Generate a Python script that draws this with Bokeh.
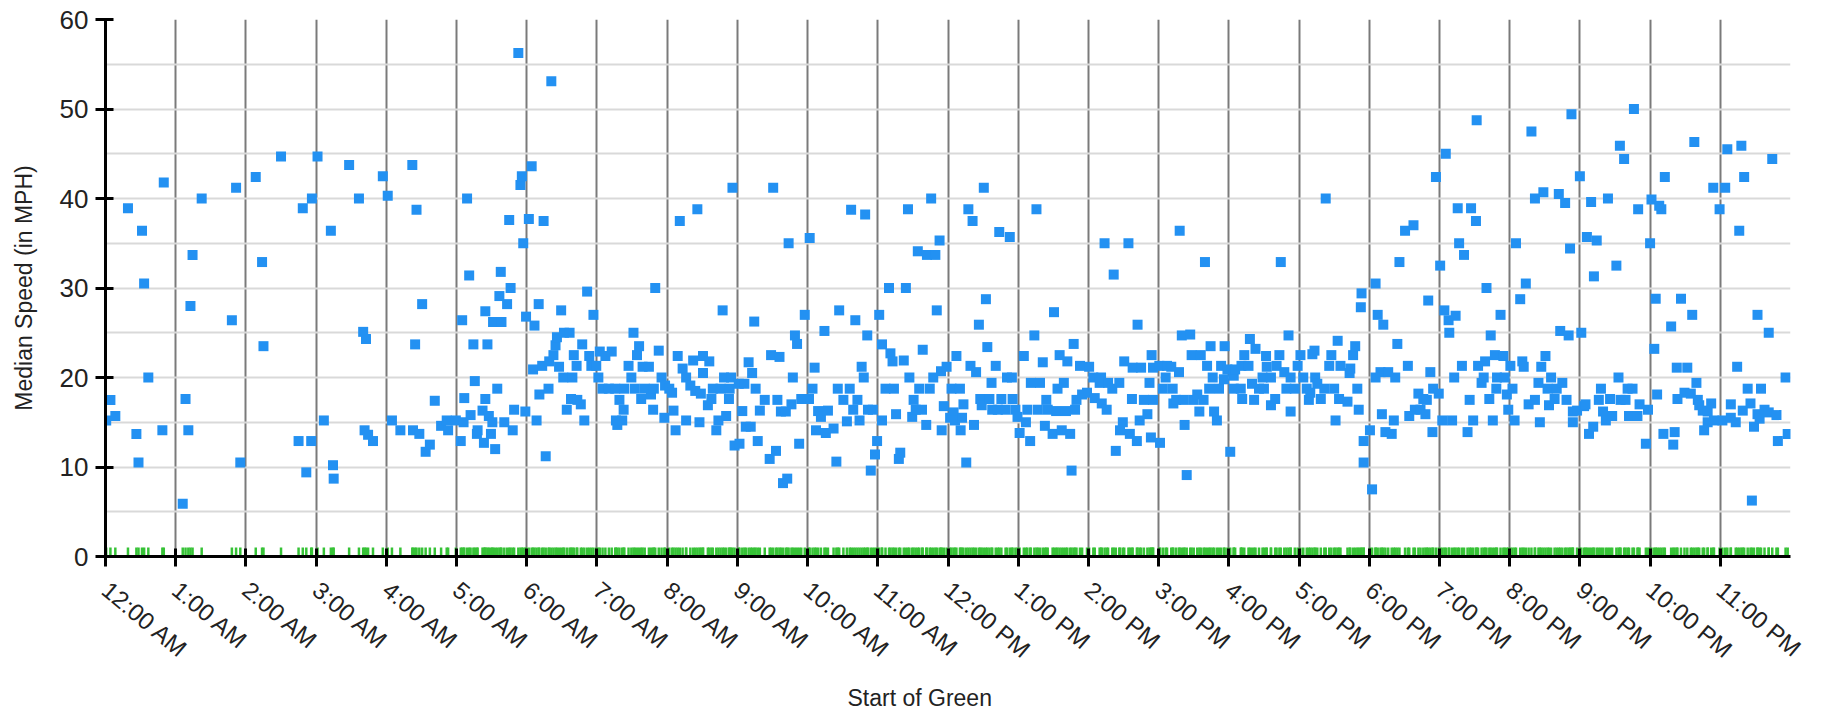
import math
from bokeh.plotting import figure
from bokeh.models import FixedTicker, Range1d, Title
from bokeh.embed import file_html
from bokeh.resources import INLINE

# Start of green (hours after midnight) and median speed (MPH) for each cycle
hours = [
    0.01, 0.07, 0.14, 0.32, 0.44, 0.47, 0.52, 0.55, 0.61, 0.81, 0.83,
    1.10, 1.14, 1.18, 1.21, 1.24, 1.37, 1.80, 1.86, 1.92,
    2.14, 2.23, 2.25, 2.50, 2.75, 2.81, 2.86, 2.93, 2.94,
    3.02, 3.11, 3.21, 3.24, 3.25, 3.47, 3.61, 3.67, 3.69, 3.71, 3.74, 3.81, 3.95,
    4.02, 4.08, 4.20, 4.37, 4.38, 4.41, 4.43, 4.47, 4.51, 4.56, 4.62, 4.69, 4.78,
    4.86, 4.88, 4.99,
    5.06, 5.08, 5.10, 5.11, 5.15, 5.18, 5.20, 5.24, 5.26, 5.29, 5.30, 5.37, 5.39,
    5.41, 5.41, 5.44, 5.46, 5.49, 5.51, 5.52, 5.55, 5.58, 5.61, 5.63, 5.64, 5.68,
    5.72, 5.75, 5.77, 5.80, 5.82, 5.88, 5.91, 5.93, 5.95, 5.98, 5.99,
    6.03, 6.07, 6.09, 6.11, 6.14, 6.17, 6.18, 6.22, 6.24, 6.27, 6.31, 6.32, 6.35,
    6.38, 6.41, 6.43, 6.46, 6.49, 6.52, 6.53, 6.57, 6.61, 6.63, 6.65, 6.67, 6.71,
    6.72, 6.77, 6.79, 6.82, 6.86, 6.89, 6.92, 6.95, 6.99,
    7.02, 7.04, 7.08, 7.12, 7.17, 7.21, 7.26, 7.27, 7.29, 7.32, 7.36, 7.38, 7.39,
    7.45, 7.49, 7.52, 7.54, 7.57, 7.60, 7.63, 7.65, 7.68, 7.74, 7.77, 7.80, 7.81,
    7.83, 7.88, 7.92, 7.96, 7.97,
    8.03, 8.07, 8.09, 8.12, 8.15, 8.18, 8.22, 8.27, 8.27, 8.33, 8.37, 8.40, 8.43,
    8.46, 8.48, 8.51, 8.51, 8.58, 8.60, 8.63, 8.65, 8.70, 8.73, 8.76, 8.79, 8.81,
    8.84, 8.88, 8.89, 8.91, 8.93, 8.96,
    9.02, 9.03, 9.07, 9.10, 9.12, 9.16, 9.19, 9.21, 9.24, 9.26, 9.29, 9.32, 9.39,
    9.46, 9.48, 9.51, 9.55, 9.57, 9.60, 9.62, 9.65, 9.69, 9.71, 9.73, 9.77, 9.79,
    9.82, 9.85, 9.88, 9.91, 9.96,
    10.02, 10.03, 10.07, 10.10, 10.12, 10.15, 10.19, 10.24, 10.26, 10.29, 10.37,
    10.41, 10.43, 10.45, 10.51, 10.56, 10.60, 10.62, 10.65, 10.68, 10.71, 10.74,
    10.77, 10.80, 10.82, 10.85, 10.86, 10.90, 10.93, 10.96, 10.99,
    11.02, 11.06, 11.06, 11.11, 11.16, 11.18, 11.21, 11.23, 11.26, 11.30, 11.32,
    11.37, 11.40, 11.43, 11.45, 11.49, 11.51, 11.54, 11.57, 11.59, 11.63, 11.64,
    11.69, 11.70, 11.74, 11.76, 11.79, 11.82, 11.84, 11.88, 11.90, 11.91, 11.94, 11.98,
    12.03, 12.05, 12.08, 12.10, 12.12, 12.17, 12.18, 12.20, 12.22, 12.26, 12.29,
    12.32, 12.35, 12.37, 12.40, 12.44, 12.46, 12.48, 12.51, 12.54, 12.56, 12.59,
    12.62, 12.63, 12.68, 12.71, 12.73, 12.76, 12.82, 12.84, 12.88, 12.91, 12.92,
    12.96, 12.99,
    13.02, 13.08, 13.11, 13.13, 13.17, 13.18, 13.23, 13.26, 13.28, 13.31, 13.35,
    13.38, 13.40, 13.42, 13.49, 13.51, 13.54, 13.56, 13.59, 13.62, 13.65, 13.68,
    13.70, 13.74, 13.76, 13.79, 13.81, 13.83, 13.88, 13.91, 13.98,
    14.01, 14.07, 14.09, 14.16, 14.18, 14.19, 14.23, 14.26, 14.28, 14.34, 14.36,
    14.39, 14.44, 14.45, 14.49, 14.51, 14.57, 14.59, 14.62, 14.63, 14.69, 14.70,
    14.73, 14.75, 14.79, 14.84, 14.87, 14.89, 14.90, 14.92, 14.92,
    15.01, 15.02, 15.06, 15.10, 15.12, 15.18, 15.20, 15.21, 15.25, 15.29, 15.30,
    15.33, 15.36, 15.37, 15.40, 15.45, 15.47, 15.50, 15.55, 15.58, 15.60, 15.64,
    15.66, 15.69, 15.72, 15.74, 15.77, 15.79, 15.83, 15.86, 15.89, 15.93, 15.94, 15.98,
    16.02, 16.07, 16.07, 16.09, 16.17, 16.18, 16.19, 16.22, 16.28, 16.30, 16.33,
    16.36, 16.38, 16.43, 16.48, 16.50, 16.53, 16.54, 16.60, 16.60, 16.66, 16.68,
    16.72, 16.74, 16.79, 16.82, 16.85, 16.88, 16.88, 16.94, 16.98,
    17.02, 17.06, 17.11, 17.14, 17.16, 17.19, 17.22, 17.23, 17.26, 17.31, 17.36,
    17.38, 17.43, 17.46, 17.50, 17.52, 17.55, 17.57, 17.59, 17.69, 17.72, 17.73,
    17.77, 17.80, 17.83, 17.85, 17.88, 17.89, 17.92, 17.92,
    18.01, 18.04, 18.09, 18.09, 18.12, 18.16, 18.18, 18.20, 18.23, 18.27, 18.32,
    18.35, 18.37, 18.40, 18.43, 18.51, 18.55, 18.57, 18.63, 18.65, 18.70, 18.73,
    18.77, 18.80, 18.82, 18.84, 18.87, 18.90, 18.91, 18.95, 18.99,
    19.01, 19.04, 19.07, 19.09, 19.13, 19.14, 19.18, 19.21, 19.23, 19.26, 19.28,
    19.32, 19.35, 19.40, 19.43, 19.45, 19.48, 19.52, 19.53, 19.55, 19.60, 19.63,
    19.65, 19.67, 19.71, 19.73, 19.76, 19.79, 19.81, 19.82, 19.87, 19.91, 19.93,
    19.96, 19.98,
    20.01, 20.04, 20.07, 20.09, 20.15, 20.18, 20.20, 20.23, 20.27, 20.31, 20.36,
    20.36, 20.41, 20.43, 20.45, 20.48, 20.51, 20.54, 20.56, 20.59, 20.64, 20.67,
    20.70, 20.72, 20.75, 20.79, 20.81, 20.84, 20.86, 20.88, 20.90, 20.90, 20.96,
    21.00, 21.02, 21.06, 21.08, 21.10, 21.13, 21.16, 21.19, 21.20, 21.24, 21.27,
    21.30, 21.33, 21.37, 21.40, 21.43, 21.46, 21.52, 21.55, 21.57, 21.58, 21.63,
    21.65, 21.68, 21.70, 21.75, 21.77, 21.82, 21.83, 21.85, 21.94, 21.97,
    22.00, 22.02, 22.06, 22.08, 22.10, 22.13, 22.16, 22.19, 22.21, 22.30, 22.33,
    22.35, 22.38, 22.39, 22.44, 22.49, 22.53, 22.58, 22.60, 22.63, 22.66, 22.68,
    22.70, 22.75, 22.77, 22.82, 22.82, 22.87, 22.90, 22.91, 22.99,
    23.03, 23.07, 23.10, 23.15, 23.15, 23.22, 23.24, 23.27, 23.30, 23.32, 23.34,
    23.39, 23.43, 23.45, 23.48, 23.53, 23.53, 23.56, 23.58, 23.63, 23.69, 23.69,
    23.74, 23.80, 23.82, 23.93, 23.96,
]

speeds = [
    15.2, 17.5, 15.7, 38.9, 13.7, 10.5, 36.4, 30.5, 20.0, 14.1, 41.8,
    5.9, 17.6, 14.1, 28.0, 33.7, 40.0, 26.4, 41.2, 10.5,
    42.4, 32.9, 23.5, 44.7, 12.9, 38.9, 9.4, 12.9, 40.0,
    44.7, 15.2, 36.4, 10.2, 8.7, 43.75, 40.0, 25.1, 14.1, 24.3, 13.6, 12.9, 42.5,
    40.3, 15.2, 14.1, 43.75, 14.1, 23.7, 38.75, 13.7, 28.2, 11.7, 12.5, 17.4, 14.6,
    15.2, 14.1, 15.2,
    12.9, 26.4, 15.0, 17.7, 40.0, 31.4, 15.8, 23.7, 19.6, 13.7, 14.1, 16.3, 12.7,
    17.6, 27.4, 23.7, 15.7, 13.7, 15.0, 26.2, 12.0, 18.75, 29.1, 31.8, 26.2, 15.0,
    28.2, 37.6, 30.0, 14.1, 16.4, 56.25, 41.5, 42.5, 35.0, 16.2, 26.8,
    37.7, 43.6, 20.9, 25.8, 15.2, 28.2, 18.1, 21.3, 37.5, 11.2, 18.75, 21.8, 53.1,
    22.5, 23.6, 24.5, 21.2, 27.5, 20.0, 25.0, 16.4, 25.0, 17.6, 20.0, 22.5, 21.3,
    17.5, 17.0, 23.7, 15.2, 29.6, 22.4, 21.3, 27.0, 21.3,
    20.0, 22.9, 18.75, 22.4, 18.75, 22.9, 18.75, 15.2, 14.7, 17.5, 15.2, 16.4, 18.75,
    21.3, 20.0, 25.0, 18.75, 22.5, 23.5, 17.6, 21.2, 18.75, 21.2, 18.1, 16.4, 18.75,
    30.0, 23.0, 20.0, 15.5, 19.1,
    18.75, 18.3, 16.3, 14.1, 22.4, 37.5, 21.0, 20.0, 15.2, 19.1, 21.9, 18.5, 38.8,
    15.0, 18.2, 22.4, 20.5, 16.9, 21.8, 17.6, 18.75, 14.1, 15.2, 18.75, 27.5, 20.0,
    15.7, 17.6, 18.75, 20.0, 41.2, 12.4,
    19.3, 12.6, 16.25, 19.3, 14.5, 21.7, 14.5, 20.5, 26.25, 18.75, 12.9, 16.3, 17.5,
    10.9, 22.5, 41.2, 11.8, 17.5, 22.3, 16.2, 8.2, 16.2, 8.7, 35.0, 17.0, 20.0,
    24.7, 23.75, 12.6, 17.6, 27.0,
    17.6, 35.6, 18.75, 21.1, 14.1, 16.25, 15.6, 25.2, 13.8, 16.3, 14.3,
    10.6, 18.75, 27.5, 17.5, 15.1, 18.75, 38.75, 16.4, 26.4, 17.5, 15.2,
    21.2, 20.0, 38.2, 24.7, 16.4, 9.6, 16.4, 11.4, 12.9,
    27.0, 23.7, 15.2, 18.75, 30.0, 22.7, 21.8, 18.75, 15.9, 10.9, 11.6,
    21.9, 30.0, 38.8, 20.0, 15.6, 17.5, 16.4, 34.1, 18.75, 16.4, 23.1,
    14.7, 33.7, 18.75, 40.0, 20.0, 33.7, 27.5, 35.3, 20.7, 14.1, 16.8, 21.2,
    15.5, 18.75, 16.1, 15.2, 22.4, 18.75, 14.1, 15.5, 17.0, 10.5, 38.8,
    21.3, 37.5, 14.7, 20.6, 25.9, 17.6, 16.9, 41.2, 28.75, 23.4, 17.6,
    19.4, 16.4, 21.3, 16.4, 36.25, 17.6, 16.4, 20.0, 35.7, 20.0, 17.6,
    16.4, 15.6,
    13.8, 22.4, 15.0, 16.4, 12.9, 19.4, 24.7, 38.8, 16.4, 19.4, 21.7,
    14.6, 17.5, 16.4, 13.7, 27.3, 16.25, 18.75, 22.5, 14.1, 19.4, 16.25,
    21.8, 13.7, 9.6, 23.75, 16.4, 17.5, 21.3, 18.1, 18.3,
    21.2, 20.0, 17.7, 19.4, 20.0, 17.1, 35.0, 16.4, 19.4, 18.75, 31.5,
    11.8, 19.4, 14.1, 15.0, 21.8, 35.0, 13.7, 17.6, 21.1, 12.9, 25.9,
    15.2, 21.1, 17.5, 15.9, 19.4, 13.3, 22.5, 21.1, 17.5,
    21.3, 12.7, 18.75, 20.0, 21.3, 21.2, 18.75, 17.1, 17.5, 20.6, 36.4,
    24.7, 17.5, 14.7, 9.1, 24.8, 22.5, 17.5, 18.1, 16.2, 22.5, 17.5,
    32.9, 21.3, 18.75, 23.5, 20.0, 16.2, 15.2, 18.75, 21.3, 19.8, 23.5, 20.9,
    11.7, 20.2, 18.75, 20.9, 18.75, 21.3, 17.6, 22.5, 21.3, 24.3, 19.3,
    17.5, 23.2, 18.75, 20.0, 18.75, 22.4, 21.2, 20.0, 16.9, 17.6, 21.3,
    22.5, 32.9, 20.6, 18.75, 24.7, 20.0, 16.2, 18.75, 21.3,
    22.5, 20.0, 18.75, 17.5, 18.3, 22.6, 23.0, 20.0, 19.3, 17.6, 18.75,
    40.0, 21.3, 22.5, 18.75, 15.2, 24.1, 17.6, 21.3, 17.3, 20.5, 21.0,
    22.5, 23.5, 18.75, 16.4, 27.85, 29.4, 12.9, 10.5,
    14.1, 7.5, 30.5, 20.0, 27.0, 20.6, 15.9, 25.9, 13.9, 20.6, 13.7,
    15.2, 20.0, 23.75, 32.9, 36.4, 21.3, 15.7, 37.0, 16.4, 18.2, 16.4,
    17.6, 15.9, 17.5, 28.6, 20.6, 13.9, 18.75, 42.4, 18.2,
    32.5, 15.2, 27.5, 45.0, 26.4, 25.0, 15.2, 20.0, 26.9, 38.9, 35.0,
    21.3, 33.7, 13.9, 17.5, 38.9, 15.2, 37.5, 48.75, 21.3, 19.4, 20.0,
    21.8, 30.0, 17.6, 24.7, 15.2, 22.5, 18.75, 20.0, 27.0, 22.4, 20.0,
    18.1, 16.4,
    21.3, 18.75, 15.2, 35.0, 28.75, 21.8, 21.2, 30.5, 17.0, 47.5, 17.5,
    40.0, 19.4, 15.0, 21.2, 40.7, 22.4, 18.75, 16.9, 20.0, 17.6, 18.75,
    40.5, 25.2, 19.4, 39.5, 17.5, 24.7, 34.4, 49.4, 16.2, 15.0, 16.3,
    42.5, 25.0, 16.8, 17.0, 35.7, 13.7, 39.6, 14.5, 31.3, 35.3, 17.5,
    18.75, 16.2, 15.2, 40.0, 17.6, 15.7, 32.5, 20.0, 45.9, 17.5, 44.4,
    17.5, 18.75, 15.7, 18.75, 50.0, 15.7, 38.8, 17.0, 12.6, 16.4,
    35.0, 39.9, 23.2, 28.8, 18.1, 39.2, 38.8, 13.7, 42.4, 25.7, 12.5,
    13.9, 21.1, 17.6, 28.8, 18.3, 21.1, 18.2, 27.0, 46.3, 19.4, 17.5,
    16.9, 16.3, 14.1, 16.2, 15.0, 17.1, 41.2, 15.2, 38.8,
    15.2, 41.2, 45.5, 17.0, 15.5, 15.0, 21.2, 36.4, 45.9, 16.3, 42.4,
    18.75, 17.1, 6.25, 14.5, 15.9, 27.0, 15.4, 18.75, 16.4, 16.1, 25.0,
    44.4, 15.8, 12.9, 20.0, 13.7,
]

tick_hours = list(range(24))
tick_labels = [
    "12:00 AM", "1:00 AM", "2:00 AM", "3:00 AM", "4:00 AM", "5:00 AM",
    "6:00 AM", "7:00 AM", "8:00 AM", "9:00 AM", "10:00 AM", "11:00 AM",
    "12:00 PM", "1:00 PM", "2:00 PM", "3:00 PM", "4:00 PM", "5:00 PM",
    "6:00 PM", "7:00 PM", "8:00 PM", "9:00 PM", "10:00 PM", "11:00 PM",
]
y_ticks = [0, 10, 20, 30, 40, 50, 60]
y_minor_ticks = [5, 15, 25, 35, 45, 55]
rug_height = 1.0
x_title = "Start of Green"
y_title = "Median Speed (in MPH)"

p = figure(
    width=1826, height=716,
    output_backend="svg", toolbar_location=None,
    x_range=Range1d(0, 24), y_range=Range1d(0, 60),
    min_border_left=105, min_border_right=36,
    min_border_top=19, min_border_bottom=158,
    background_fill_color="white", border_fill_color="white",
)
p.outline_line_color = None

# rug of green starts
p.segment(x0=hours, y0=[0] * len(hours), x1=hours, y1=[rug_height] * len(hours),
          line_color="#36c236", line_width=2.5)
# median speeds
p.scatter(hours, speeds, marker="square", size=10,
          fill_color="#2391f2", line_color=None)

font = "Liberation Sans"

xa = p.xaxis[0]
xa.ticker = FixedTicker(ticks=tick_hours)
xa.major_label_overrides = {h: lab for h, lab in zip(tick_hours, tick_labels)}
xa.major_label_orientation = -math.radians(40)
xa.major_label_text_font = font
xa.major_label_text_font_size = "24px"
xa.major_label_text_color = "#222222"
xa.major_label_standoff = 20
xa.axis_line_color = "black"
xa.axis_line_width = 3
xa.major_tick_line_color = "black"
xa.major_tick_line_width = 3
xa.major_tick_in = 8
xa.major_tick_out = 10
xa.minor_tick_line_color = None

# x-axis title below the tick labels
p.add_layout(Title(
    text=x_title, align="left", offset=742, standoff=12, vertical_align="bottom",
    text_font=font, text_font_size="23px", text_font_style="normal",
    text_color="#222222",
), "below")

ya = p.yaxis[0]
ya.ticker = FixedTicker(ticks=y_ticks, minor_ticks=y_minor_ticks)
ya.major_label_text_font = font
ya.major_label_text_font_size = "26px"
ya.major_label_text_color = "#222222"
ya.major_label_standoff = 7
ya.axis_line_color = "black"
ya.axis_line_width = 3
ya.major_tick_line_color = "black"
ya.major_tick_line_width = 3
ya.major_tick_in = 8
ya.major_tick_out = 10
ya.minor_tick_line_color = None
ya.axis_label = y_title
ya.axis_label_text_font = font
ya.axis_label_text_font_size = "23px"
ya.axis_label_text_font_style = "normal"
ya.axis_label_text_color = "#222222"
ya.axis_label_standoff = 20

p.xgrid.ticker = FixedTicker(ticks=tick_hours)
p.xgrid.grid_line_color = "#7a7a7a"
p.xgrid.grid_line_width = 2
p.ygrid.ticker = FixedTicker(ticks=y_ticks, minor_ticks=y_minor_ticks)
p.ygrid.grid_line_color = "#d9d9d9"
p.ygrid.grid_line_width = 2
p.ygrid.minor_grid_line_color = "#d9d9d9"
p.ygrid.minor_grid_line_width = 2

assert len(hours) == len(speeds), (len(hours), len(speeds))

open("out.html", "w").write(file_html(p, INLINE))
